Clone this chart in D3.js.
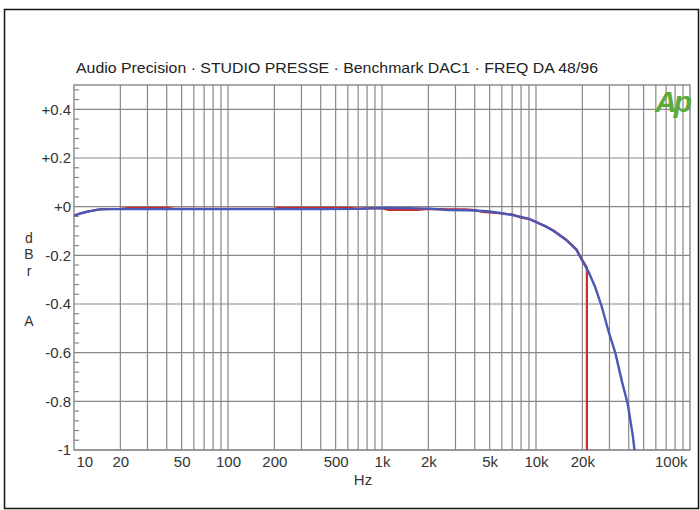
<!DOCTYPE html>
<html><head><meta charset="utf-8">
<script src="https://cdn.jsdelivr.net/npm/d3@7"></script>
<style>body{margin:0;background:#fff;}svg{display:block;}</style>
</head><body>
<svg id="c" width="700" height="510"></svg>
<script>
const titleText = "Audio Precision · STUDIO PRESSE · Benchmark DAC1 · FREQ DA 48/96";
const xTickValues = [10,20,50,100,200,500,1000,2000,5000,10000,20000,100000];
const xTickLabels = ["10","20","50","100","200","500","1k","2k","5k","10k","20k","100k"];
const yTickValues = [0.4,0.2,0,-0.2,-0.4,-0.6,-0.8,-1];
const yTickLabels = ["+0.4","+0.2","+0","-0.2","-0.4","-0.6","-0.8","-1"];
const yTitleLetters = ["d","B","r","A"];

// blue trace (freq Hz, dBr)
const blueFreq = [10,10.5,11,12,13,14,15,17,20,30,50,100,200,400,700,1000,1500,2000,2700,3500,4000,5000,6000,7000,8000,9000,10000,11500,13000,15700,18300,20100,21900,24200,26700,29500,32700,36200,39400,42500,43600];
const blueDb   = [-0.037,-0.033,-0.028,-0.022,-0.017,-0.013,-0.011,-0.010,-0.010,-0.010,-0.010,-0.010,-0.010,-0.010,-0.009,-0.005,-0.006,-0.008,-0.014,-0.015,-0.016,-0.020,-0.027,-0.035,-0.042,-0.050,-0.064,-0.080,-0.100,-0.137,-0.178,-0.225,-0.267,-0.330,-0.410,-0.510,-0.600,-0.720,-0.810,-0.940,-1.000];
// red trace
const redFreq = [10,12,15,20,23,40,45,200,210,600,700,1000,1100,1700,2000,2700,3500,4000,4500,5000,6000,7000,8000,9000,10000,13000,15700,18300,20100,21400,21400];
const redDb   = [-0.036,-0.021,-0.010,-0.009,-0.005,-0.005,-0.009,-0.009,-0.005,-0.005,-0.008,-0.006,-0.013,-0.013,-0.009,-0.011,-0.011,-0.014,-0.022,-0.024,-0.028,-0.032,-0.045,-0.050,-0.062,-0.098,-0.135,-0.175,-0.222,-0.250,-1.000];

const svg = d3.select("#c");
const L = 74, R = 690, T = 85, B = 450;
const x = d3.scaleLog().domain([10,100000]).range([L,R]);
const y = d3.scaleLinear().domain([-1,0.5]).range([B,T]);
const font = "Liberation Sans, Arial, sans-serif";
const grid = "#878787";

// outer frame
svg.append("rect").attr("x",4.5).attr("y",9.5).attr("width",694).attr("height",499)
  .attr("fill","none").attr("stroke","#111").attr("stroke-width",1.5);

// title
svg.append("text").attr("x",76).attr("y",73).attr("font-family",font).attr("font-size",15.5)
  .attr("textLength",522).attr("lengthAdjust","spacingAndGlyphs")
  .attr("fill","#222").text(titleText);

// vertical grid lines (1..9 per decade)
const vgrid = [];
for (let d = 10; d < 100000; d *= 10) for (let k = 1; k <= 9; k++) if (d*k > 10) vgrid.push(d*k);
svg.append("g").selectAll("line").data(vgrid).join("line")
  .attr("x1",d=>x(d)).attr("x2",d=>x(d)).attr("y1",T).attr("y2",B)
  .attr("stroke",grid).attr("stroke-width",1.2);

// horizontal grid lines
svg.append("g").selectAll("line").data(yTickValues).join("line")
  .attr("x1",L).attr("x2",R).attr("y1",d=>y(d)).attr("y2",d=>y(d))
  .attr("stroke",grid).attr("stroke-width",1.2);

// minor y ticks
const minor = d3.range(-1, 0.5001, 0.04).filter(v => Math.abs(Math.round(v/0.2)*0.2 - v) > 1e-6);
svg.append("g").selectAll("line").data(minor).join("line")
  .attr("x1",L).attr("x2",L+5).attr("y1",d=>y(d)).attr("y2",d=>y(d))
  .attr("stroke",grid).attr("stroke-width",1.2);

// plot frame
svg.append("rect").attr("x",L).attr("y",T).attr("width",R-L).attr("height",B-T)
  .attr("fill","none").attr("stroke",grid).attr("stroke-width",1.4);

// y tick labels via axis
const yAxis = d3.axisLeft(y).tickValues(yTickValues).tickSize(0).tickPadding(3)
  .tickFormat((d,i)=>yTickLabels[i]);
const ya = svg.append("g").attr("transform",`translate(${L},0)`).call(yAxis);
ya.select(".domain").remove();
ya.selectAll("text").attr("font-family",font).attr("font-size",15).attr("fill","#333");

// x tick labels via axis
const xAxis = d3.axisBottom(x).tickValues(xTickValues).tickSize(0).tickPadding(6)
  .tickFormat((d,i)=>xTickLabels[i]);
const xa = svg.append("g").attr("transform",`translate(0,${B})`).call(xAxis);
xa.select(".domain").remove();
xa.selectAll("text").attr("font-family",font).attr("font-size",15).attr("fill","#333")
  .attr("text-anchor",(d,i)=> i===0 ? "start" : (i===xTickLabels.length-1 ? "end" : "middle"))
  .attr("dx",(d,i)=> i===0 ? 2 : (i===xTickLabels.length-1 ? -3 : 0));

// axis titles
svg.append("text").attr("x",363).attr("y",485).attr("text-anchor","middle")
  .attr("font-family",font).attr("font-size",15).attr("fill","#333").text("Hz");
const yTitleY = [238,254,271,321];
svg.append("g").selectAll("text").data(yTitleLetters).join("text")
  .attr("x",29).attr("y",(d,i)=>yTitleY[i]+5).attr("text-anchor","middle")
  .attr("font-family",font).attr("font-size",14).attr("fill","#333").text(d=>d);

// Ap logo
svg.append("text").attr("x",689).attr("y",112).attr("text-anchor","end")
  .attr("font-family",font).attr("font-size",30).attr("font-weight","bold").attr("font-style","italic")
  .attr("letter-spacing",-3).attr("fill","#5bab3b").text("Ap");

// traces
svg.append("clipPath").attr("id","pc").append("rect")
  .attr("x",L).attr("y",T).attr("width",R-L).attr("height",B-T+1);
const lineS = d3.line().x(d=>x(d[0])).y(d=>y(d[1]));
const redPts = redFreq.map((f,i)=>[f,redDb[i]]);
const bluePts = blueFreq.map((f,i)=>[f,blueDb[i]]);
const tg = svg.append("g").attr("clip-path","url(#pc)");
tg.append("path").attr("d",lineS(redPts)).attr("fill","none").attr("stroke","#cc2b2b").attr("stroke-width",2.2);
tg.append("path").attr("d",lineS(bluePts)).attr("fill","none").attr("stroke","#4a58b8").attr("stroke-width",2.4);
</script>
</body></html>
